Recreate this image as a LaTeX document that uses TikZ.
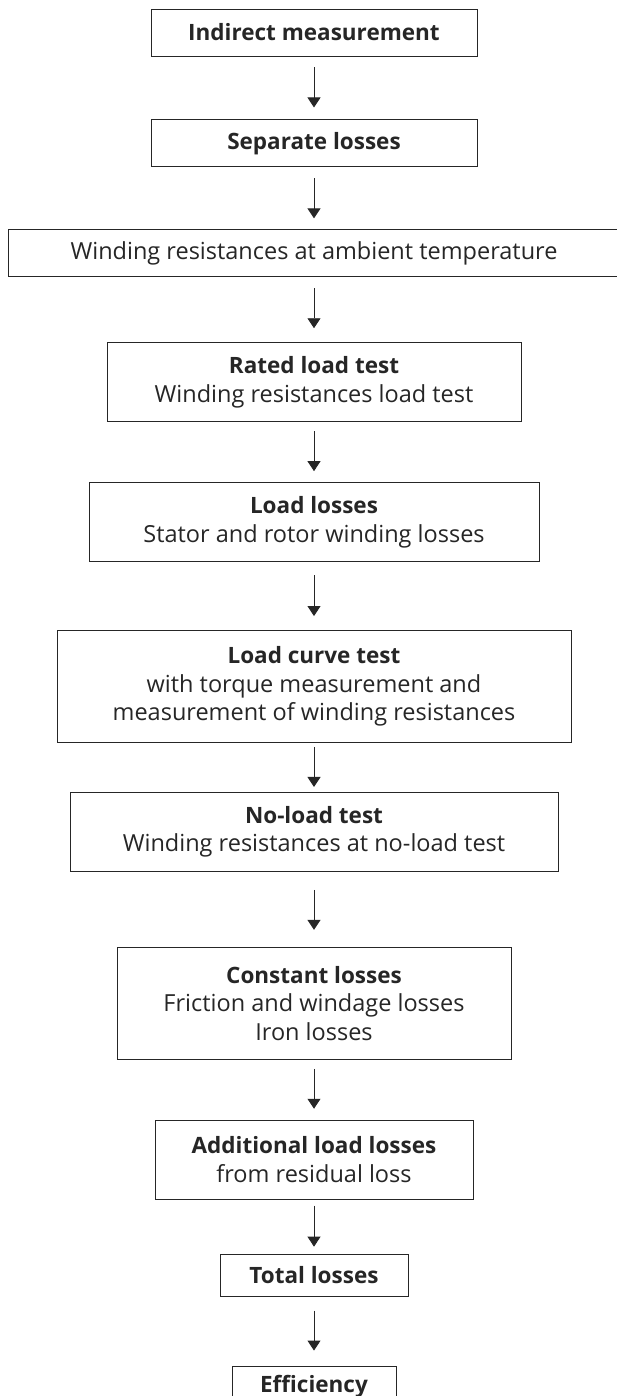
\documentclass[tikz,border=0pt]{standalone}
\usepackage{fontspec}
\setmainfont{Open Sans}
\usetikzlibrary{arrows.meta, positioning}
\newcommand{\boxtitle}[1]{{\fontsize{22.5}{28.7}\selectfont\bfseries #1}}

\begin{document}
\begin{tikzpicture}[x=1pt, y=-1pt,
    every node/.style={draw=black!85, line width=0.9pt, rectangle, inner sep=0pt, align=center,
        text=black!85, font=\fontsize{23.5}{28.7}\selectfont},
    flow/.style={draw=black!85, line width=0.9pt, -{Triangle[width=13pt, length=10pt]}}]
    \useasboundingbox (0,0) rectangle (617,1396);

    % Boxes, top to bottom
    \node[minimum width=326pt, minimum height=47pt] (indirect) at (314,32.5) {\boxtitle{Indirect measurement}};
    \node[below=63pt of indirect, minimum width=326pt, minimum height=47pt] (separate) {\boxtitle{Separate losses}};
    \node[below=62pt of separate, minimum width=612pt, minimum height=47pt] (ambient) {Winding resistances at ambient temperature};
    \node[below=65pt of ambient, minimum width=414pt, minimum height=79pt] (rated) {\boxtitle{Rated load test}\\ Winding resistances load test};
    \node[below=60pt of rated, minimum width=450pt, minimum height=79pt] (loadloss) {\boxtitle{Load losses}\\ Stator and rotor winding losses};
    \node[below=68pt of loadloss, minimum width=514pt, minimum height=112pt] (curve) {\boxtitle{Load curve test}\\ with torque measurement and\\ measurement of winding resistances};
    \node[below=49pt of curve, minimum width=488pt, minimum height=79pt] (noload) {\boxtitle{No-load test}\\ Winding resistances at no-load test};
    \node[below=75pt of noload, minimum width=394pt, minimum height=112pt] (constant) {\boxtitle{Constant losses}\\ Friction and windage losses\\ Iron losses};
    \node[below=60pt of constant, minimum width=318pt, minimum height=79pt] (additional) {\boxtitle{Additional load losses}\\ from residual loss};
    \node[below=54pt of additional, minimum width=188pt, minimum height=42pt] (total) {\boxtitle{Total losses}};
    \node[below=69pt of total, minimum width=164pt, minimum height=41pt] (efficiency) {\boxtitle{Efficiency}};

    % Arrows
    \draw[flow, shorten <=11pt, shorten >=12pt] (indirect) -- (separate);
    \draw[flow, shorten <=11pt, shorten >=11pt] (separate) -- (ambient);
    \draw[flow, shorten <=11pt, shorten >=14pt] (ambient) -- (rated);
    \draw[flow, shorten <=9pt, shorten >=11pt] (rated) -- (loadloss);
    \draw[flow, shorten <=13pt, shorten >=14pt] (loadloss) -- (curve);
    \draw[flow, shorten <=4pt, shorten >=5pt] (curve) -- (noload);
    \draw[flow, shorten <=18pt, shorten >=17pt] (noload) -- (constant);
    \draw[flow, shorten <=9pt, shorten >=11pt] (constant) -- (additional);
    \draw[flow, shorten <=6pt, shorten >=7pt] (additional) -- (total);
    \draw[flow, shorten <=14pt, shorten >=15pt] (total) -- (efficiency);
\end{tikzpicture}
\end{document}
